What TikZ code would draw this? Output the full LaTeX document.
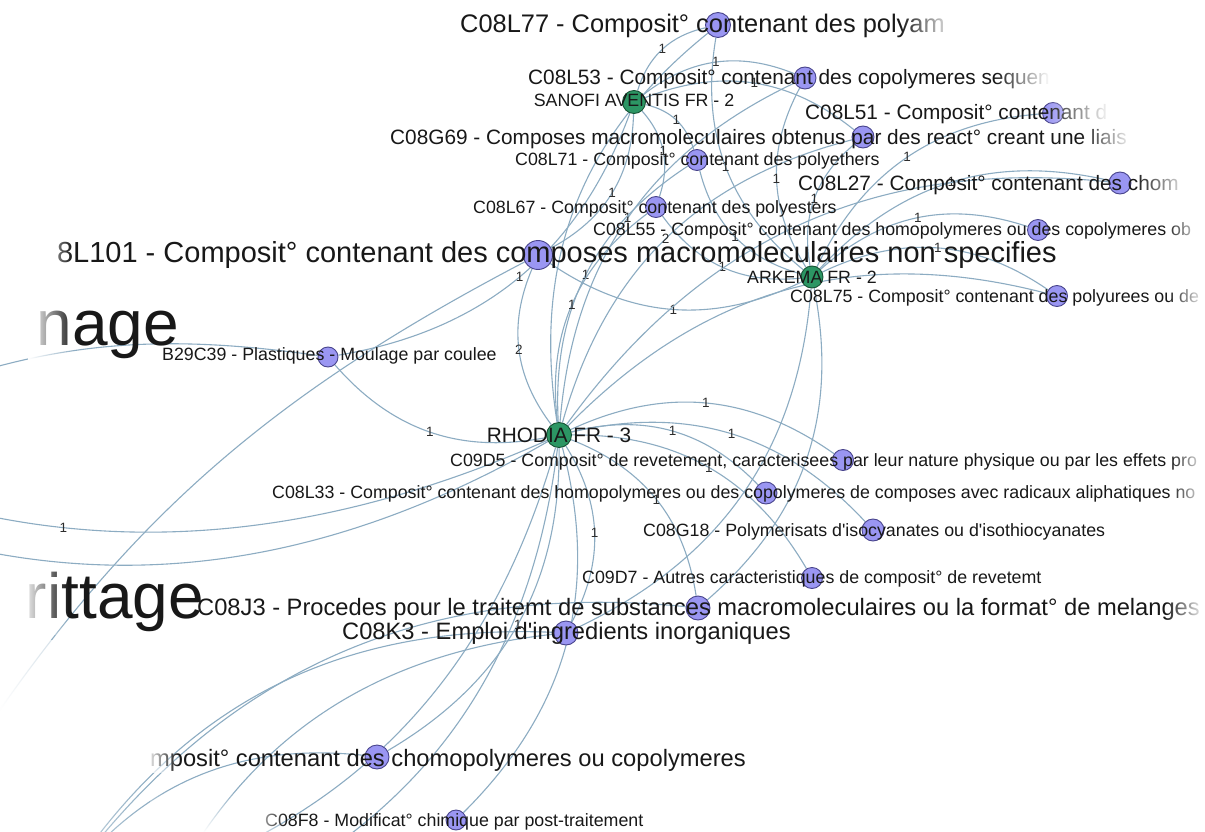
\documentclass[tikz,border=0pt]{standalone}
\usepackage{fontspec}
\setmainfont{Liberation Sans}[Ligatures=TeXOff]
\usetikzlibrary{fadings}

\definecolor{edgecol}{RGB}{140,172,194}
\definecolor{codefill}{RGB}{154,150,242}
\definecolor{codeline}{RGB}{72,68,140}
\definecolor{firmfill}{RGB}{44,150,100}
\definecolor{firmline}{RGB}{22,82,52}
\definecolor{inkcol}{RGB}{24,24,24}
\definecolor{wtcol}{RGB}{45,45,45}

% white veils that fade texts and links out towards the page borders
\tikzfading[name=veilright, left color=transparent!100, right color=transparent!0]
\tikzfading[name=veilleft, left color=transparent!0, right color=transparent!100]
\tikzfading[name=veildown, top color=transparent!100, bottom color=transparent!0]

\pgfdeclarelayer{paper}
\pgfdeclarelayer{links}
\pgfsetlayers{paper,links,main}

\tikzset{
  conn/.style={draw=edgecol, line width=1.1pt},
  arc/.style={bend left=30},
  wt/.style={font=\fontsize{13.5}{14}\selectfont, text=wtcol, inner sep=0pt, midway},
  code/.style={circle, draw=codeline, fill=codefill, line width=0.9pt, inner sep=0pt, minimum size=#1},
  firm/.style={circle, draw=firmline, fill=firmfill, line width=0.9pt, inner sep=0pt, minimum size=#1},
  lab/.style={inner sep=0pt, text=inkcol, anchor=base west},
  fS/.style={font=\fontsize{17.8}{20}\selectfont},
  fM/.style={font=\fontsize{20.8}{23}\selectfont},
  fL/.style={font=\fontsize{23.7}{26}\selectfont},
  fLL/.style={font=\fontsize{25.4}{28}\selectfont},
  fXL/.style={font=\fontsize{29}{32}\selectfont},
  fH/.style={font=\fontsize{64}{70}\selectfont},
  veilR/.style={white, path fading=veilright, fit fading=true},
  veilL/.style={white, path fading=veilleft, fit fading=true},
  veilD/.style={white, path fading=veildown, fit fading=true},
}

\begin{document}
\begin{tikzpicture}[x=1pt,y=1pt]
\useasboundingbox (0,0) rectangle (1205,-832);
\begin{pgfonlayer}{paper}
  \fill[white] (0,0) rectangle (1205,-832);
\end{pgfonlayer}

% ---- patent holders (green) ----
\node[firm=23] (san) at (634,-102) {};
\node[firm=22] (ark) at (812,-277) {};
\node[firm=25] (rho) at (559,-435) {};

% ---- classification codes (purple) ----
\node[code=25] (n77) at (718,-25) {};
\node[code=22] (n53) at (805,-78) {};
\node[code=21] (n51) at (1053,-113) {};
\node[code=22] (g69) at (863,-137) {};
\node[code=21] (n71) at (697,-160) {};
\node[code=22] (n27) at (1120,-183) {};
\node[code=21] (n67) at (656,-207) {};
\node[code=21] (n55) at (1038,-230) {};
\node[code=29] (n101) at (538,-255) {};
\node[code=21] (n75) at (1057,-296) {};
\node[code=20] (b29) at (328,-357) {};
\node[code=21] (d5) at (843,-460) {};
\node[code=22] (n33) at (766,-493) {};
\node[code=22] (g18) at (873,-530) {};
\node[code=21] (d7) at (812,-578) {};
\node[code=24] (j3) at (698,-608) {};
\node[code=24] (k3) at (566,-633) {};
\node[code=24] (cho) at (377,-757) {};
\node[code=20] (f8) at (456,-820) {};

% ---- nodes lying beyond the page ----
\coordinate (oX) at (-150,-420);
\coordinate (oZ) at (-60,-800);
\coordinate (oL3) at (-391,-340);
\coordinate (oL4) at (-300,-440);
\coordinate (oC1) at (90,-900);
\coordinate (oC2) at (200,-920);
\coordinate (oB1) at (60,-890);
\coordinate (oB2) at (150,-930);

\begin{pgfonlayer}{links}
  % SANOFI AVENTIS
  \draw[conn] (san) to[arc] node[wt]{1} (n77);
  \draw[conn] (san) to[arc] node[wt]{1} (n53);
  \draw[conn] (san) to[arc] node[wt]{1} (g69);
  \draw[conn] (san) to[arc] node[wt]{1} (n71);
  \draw[conn] (san) to[arc] node[wt]{1} (n67);
  \draw[conn] (san) to[arc] node[wt]{1} (n101);
  \draw[conn] (san) to[arc] node[wt]{1} (b29);
  % ARKEMA
  \draw[conn] (ark) to[arc] node[wt]{1} (n77);
  \draw[conn] (ark) to[arc] node[wt]{1} (n53);
  \draw[conn] (ark) to[arc] node[wt]{1} (n51);
  \draw[conn] (ark) to[arc] node[wt]{1} (g69);
  \draw[conn] (ark) to[arc] node[wt]{1} (n71);
  \draw[conn] (ark) to[arc] node[wt]{1} (n67);
  \draw[conn] (ark) to[arc] node[wt]{1} (n101);
  \draw[conn] (ark) to[arc] node[wt]{1} (n27);
  \draw[conn] (ark) to[arc] node[wt]{1} (n55);
  \draw[conn] (ark) to[arc] node[wt]{1} (n75);
  \draw[conn] (ark) to[arc] (j3);
  \draw[conn] (ark) to[arc] (k3);
  % RHODIA
  \draw[conn] (rho) to[arc] node[wt]{2} (n101);
  \draw[conn] (rho) to[arc] node[wt]{1} (b29);
  \draw[conn] (rho) to[arc] (n77);
  \draw[conn] (rho) to[arc] node[wt]{1} (n53);
  \draw[conn] (rho) to[arc] node[wt]{2} (g69);
  \draw[conn] (rho) to[arc] node[wt]{1} (n71);
  \draw[conn] (rho) to[arc] node[wt]{1} (n67);
  \draw[conn] (rho) to[arc] (n75);
  \draw[conn] (rho) to[arc] (n27);
  \draw[conn] (rho) to[arc] node[wt]{1} (d5);
  \draw[conn] (rho) to[arc] node[wt]{1} (n33);
  \draw[conn] (rho) to[arc] node[wt]{1} (g18);
  \draw[conn] (rho) to[arc] node[wt]{1} (d7);
  \draw[conn] (rho) to[arc] node[wt]{1} (j3);
  \draw[conn] (rho) to[arc] node[wt]{1} (k3);
  \draw[conn] (rho) to[arc] node[wt]{1} (cho);
  \draw[conn] (rho) to[arc] (f8);
  \draw[conn] (rho) to[arc] node[wt]{1} (oL3);
  \draw[conn] (rho) to[arc] (oL4);
  \draw[conn] (rho) to[arc] (oC1);
  \draw[conn] (rho) to[arc] (oC2);
  % holders beyond the page
  \draw[conn] (oX) to[bend left=16] (b29);
  \draw[conn] (oZ) to[bend left=15] (n101);
  \draw[conn] (oB1) to[arc] (j3);
  \draw[conn] (oB1) to[arc] (k3);
  \draw[conn] (oB1) to[arc] (cho);
  \draw[conn] (oB2) to[arc] (k3);
\end{pgfonlayer}

% ---- labels ----
\node[lab,fLL] (t77) at (460,-33) {C08L77 - Composit° contenant des polyam};
\node[lab,fM] (t53) at (528,-85) {C08L53 - Composit° contenant des copolymeres sequen};
\node[lab,fS,anchor=base] (tsan) at (634,-107) {SANOFI AVENTIS FR - 2};
\node[lab,fM] (t51) at (805,-120) {C08L51 - Composit° contenant d};
\node[lab,fM] (tg69) at (390,-145) {C08G69 - Composes macromoleculaires obtenus par des react° creant une liais};
\node[lab,fS] (t71) at (515,-165) {C08L71 - Composit° contenant des polyethers};
\node[lab,fM] (t27) at (798,-190) {C08L27 - Composit° contenant des chom};
\node[lab,fS] (t67) at (473,-213) {C08L67 - Composit° contenant des polyesters};
\node[lab,fS] (t55) at (593,-235) {C08L55 - Composit° contenant des homopolymeres ou des copolymeres ob};
\node[lab,fXL,anchor=base east] (t101) at (1057,-262) {8L101 - Composit° contenant des composes macromoleculaires non specifies};
\node[lab,fS,anchor=base] (tark) at (812,-283) {ARKEMA FR - 2};
\node[lab,fS] (t75) at (790,-302) {C08L75 - Composit° contenant des polyurees ou de};
\node[lab,fH,anchor=base east] (tnage) at (179,-345) {nage};
\node[lab,fS] (tb29) at (162,-360) {B29C39 - Plastiques - Moulage par coulee};
\node[lab,fM,anchor=base] (trho) at (559,-442) {RHODIA FR - 3};
\node[lab,fS] (td5) at (450,-466) {C09D5 - Composit° de revetement, caracterisees par leur nature physique ou par les effets pro};
\node[lab,fS] (t33) at (272,-498) {C08L33 - Composit° contenant des homopolymeres ou des copolymeres de composes avec radicaux aliphatiques no};
\node[lab,fS] (tg18) at (643,-536) {C08G18 - Polymerisats d'isocyanates ou d'isothiocyanates};
\node[lab,fS] (td7) at (582,-583) {C09D7 - Autres caracteristiques de composit° de revetemt};
\node[lab,fH,anchor=base east] (tritt) at (204,-618) {rittage};
\node[lab,fL] (tj3) at (197,-615) {C08J3 - Procedes pour le traitemt de substances macromoleculaires ou la format° de melanges};
\node[lab,fL] (tk3) at (342,-639) {C08K3 - Emploi d'ingredients inorganiques};
\node[lab,fL,anchor=base east] (tcho) at (746,-766) {mposit° contenant des chomopolymeres ou copolymeres};
\node[lab,fS] (tf8) at (265,-826) {C08F8 - Modificat° chimique par post-traitement};

% ---- fading towards the borders ----
\fill[veilR] (900,-5) rectangle (955,-44);
\fill[veilR] (995,-62) rectangle (1050,-92);
\fill[veilR] (1045,-97) rectangle (1110,-127);
\fill[veilR] (1080,-122) rectangle (1132,-152);
\fill[veilR] (1135,-168) rectangle (1190,-197);
\fill[white] (1190,-168) rectangle (1205,-197);
\fill[veilR] (1165,-219) rectangle (1205,-241);
\fill[veilR] (1168,-286) rectangle (1205,-308);
\fill[veilR] (1170,-449) rectangle (1205,-472);
\fill[veilR] (1170,-481) rectangle (1205,-504);
\fill[veilR] (1165,-590) rectangle (1205,-622);
\fill[veilL] (35,-232) rectangle (72,-270);
\fill[veilL] (28,-290) rectangle (75,-362);
\fill[veilL] (22,-565) rectangle (68,-635);
\fill[veilL] (0,-640) rectangle (150,-832);
\fill[veilD] (150,-790) rectangle (262,-832);
\fill[veilL] (145,-740) rectangle (178,-773);
\fill[veilL, fill opacity=0.6] (262,-810) rectangle (286,-832);
\end{tikzpicture}
\end{document}
